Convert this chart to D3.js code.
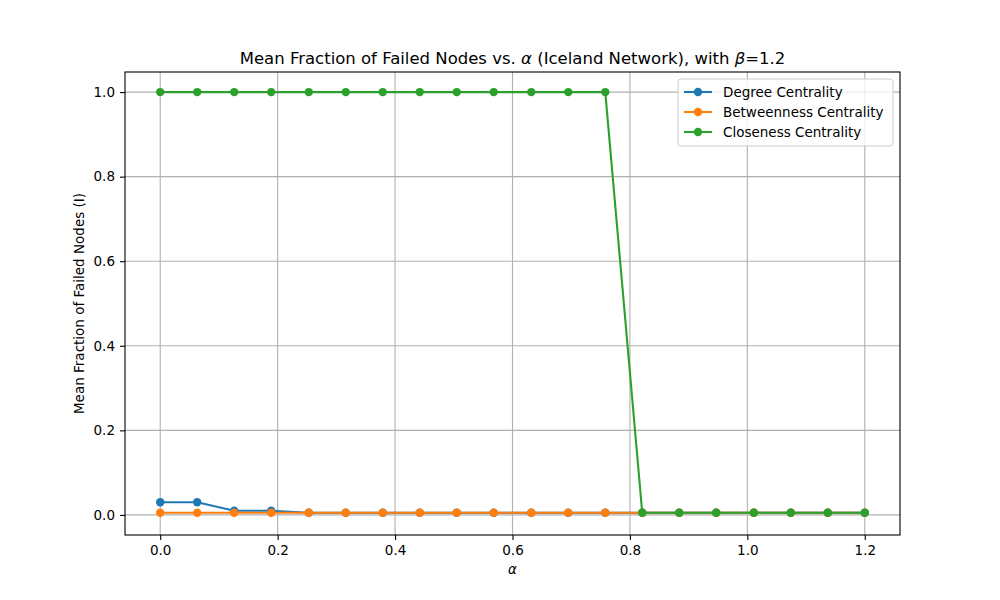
<!DOCTYPE html>
<html>
<head>
<meta charset="utf-8">
<script src="https://cdn.jsdelivr.net/npm/d3@7"></script>
<style>
  body { margin: 0; background: #fff; }
  svg text { font-family: "DejaVu Sans", sans-serif; fill: #000; }
</style>
</head>
<body>
<div id="chart"></div>
<script>
// alpha values (20 points between 0 and 1.2)
var alphas = [0.000, 0.063, 0.126, 0.189, 0.253, 0.316, 0.379, 0.442, 0.505, 0.568,
              0.632, 0.695, 0.758, 0.821, 0.884, 0.947, 1.011, 1.074, 1.137, 1.200];

var degreeVals = [0.030, 0.030, 0.010, 0.010, 0.005, 0.005, 0.005, 0.005, 0.005, 0.005,
                  0.005, 0.005, 0.005, 0.005, 0.005, 0.005, 0.005, 0.005, 0.005, 0.005];
var betweennessVals = [0.005, 0.005, 0.005, 0.005, 0.005, 0.005, 0.005, 0.005, 0.005, 0.005,
                       0.005, 0.005, 0.005, 0.005, 0.005, 0.005, 0.005, 0.005, 0.005, 0.005];
var closenessVals = [1.0, 1.0, 1.0, 1.0, 1.0, 1.0, 1.0, 1.0, 1.0, 1.0,
                     1.0, 1.0, 1.0, 0.005, 0.005, 0.005, 0.005, 0.005, 0.005, 0.005];

var seriesNames = ["Degree Centrality", "Betweenness Centrality", "Closeness Centrality"];
var seriesColors = ["#1f77b4", "#ff7f0e", "#2ca02c"];
var xTicks = [0.0, 0.2, 0.4, 0.6, 0.8, 1.0, 1.2];
var yTicks = [0.0, 0.2, 0.4, 0.6, 0.8, 1.0];

var width = 1000,
    height = 600,
    margin = {top: 72, right: 100, bottom: 65, left: 125};

var svg = d3.select("#chart").append("svg")
    .attr("width", width)
    .attr("height", height);

var x = d3.scaleLinear().domain([-0.06, 1.26]).range([margin.left, width - margin.right]);
var y = d3.scaleLinear().domain([-0.0475, 1.0475]).range([height - margin.bottom, margin.top]);

// grid lines
var grid = svg.append("g").attr("class", "grid");
grid.selectAll("line.gx")
  .data(xTicks)
  .enter().append("line")
  .attr("x1", d => x(d)).attr("x2", d => x(d))
  .attr("y1", margin.top).attr("y2", height - margin.bottom)
  .attr("stroke", "#b0b0b0").attr("stroke-width", 1.1);
grid.selectAll("line.gy")
  .data(yTicks)
  .enter().append("line")
  .attr("y1", d => y(d)).attr("y2", d => y(d))
  .attr("x1", margin.left).attr("x2", width - margin.right)
  .attr("stroke", "#b0b0b0").attr("stroke-width", 1.1);

// axes
var xAxis = d3.axisBottom(x).tickValues(xTicks).tickFormat(d3.format(".1f")).tickSize(5).tickPadding(5);
var yAxis = d3.axisLeft(y).tickValues(yTicks).tickFormat(d3.format(".1f")).tickSize(5).tickPadding(5);

svg.append("g")
  .attr("transform", "translate(0," + (height - margin.bottom) + ")")
  .call(xAxis)
  .call(g => g.select(".domain").remove());
svg.append("g")
  .attr("transform", "translate(" + margin.left + ",0)")
  .call(yAxis)
  .call(g => g.select(".domain").remove());

svg.selectAll(".tick text").attr("font-size", 13.5).attr("font-family", "DejaVu Sans");
svg.selectAll(".tick line").attr("stroke", "#000").attr("stroke-width", 1.1);

// frame
svg.append("rect")
  .attr("x", margin.left).attr("y", margin.top)
  .attr("width", width - margin.left - margin.right)
  .attr("height", height - margin.top - margin.bottom)
  .attr("fill", "none").attr("stroke", "#000").attr("stroke-width", 1.1);

// series
var allSeries = [degreeVals, betweennessVals, closenessVals];
var line = d3.line().x(d => x(d[0])).y(d => y(d[1]));

allSeries.forEach(function(vals, i) {
  var pts = alphas.map((a, j) => [a, vals[j]]);
  var g = svg.append("g");
  g.append("path")
    .datum(pts)
    .attr("d", line)
    .attr("fill", "none")
    .attr("stroke", seriesColors[i])
    .attr("stroke-width", 2.1);
  g.selectAll("circle")
    .data(pts)
    .enter().append("circle")
    .attr("cx", d => x(d[0]))
    .attr("cy", d => y(d[1]))
    .attr("r", 4.2)
    .attr("fill", seriesColors[i]);
});

// legend
var legend = svg.append("g").attr("transform", "translate(678,79)");
legend.append("rect")
  .attr("width", 215).attr("height", 67)
  .attr("rx", 3)
  .attr("fill", "#fff").attr("fill-opacity", 0.8)
  .attr("stroke", "#cccccc").attr("stroke-width", 1);
seriesNames.forEach(function(name, i) {
  var ly = 13 + i * 20;
  legend.append("line")
    .attr("x1", 6).attr("x2", 34).attr("y1", ly).attr("y2", ly)
    .attr("stroke", seriesColors[i]).attr("stroke-width", 2.1);
  legend.append("circle")
    .attr("cx", 20).attr("cy", ly).attr("r", 4.2)
    .attr("fill", seriesColors[i]);
  legend.append("text")
    .attr("x", 45).attr("y", ly)
    .attr("dy", "0.35em")
    .attr("font-size", 13.5)
    .text(name);
});

// title
var title = svg.append("text")
  .attr("x", (margin.left + width - margin.right) / 2)
  .attr("y", 64)
  .attr("text-anchor", "middle")
  .attr("font-size", 16.5);
title.append("tspan").text("Mean Fraction of Failed Nodes vs. ");
title.append("tspan").attr("font-style", "italic").text("α");
title.append("tspan").text(" (Iceland Network), with ");
title.append("tspan").attr("font-style", "italic").text("β");
title.append("tspan").text("=1.2");

// axis labels
svg.append("text")
  .attr("x", (margin.left + width - margin.right) / 2)
  .attr("y", 574)
  .attr("text-anchor", "middle")
  .attr("font-size", 13.5)
  .attr("font-style", "italic")
  .text("α");

svg.append("text")
  .attr("transform", "translate(84," + ((margin.top + height - margin.bottom) / 2) + ") rotate(-90)")
  .attr("text-anchor", "middle")
  .attr("font-size", 13.5)
  .text("Mean Fraction of Failed Nodes (I)");
</script>
</body>
</html>
